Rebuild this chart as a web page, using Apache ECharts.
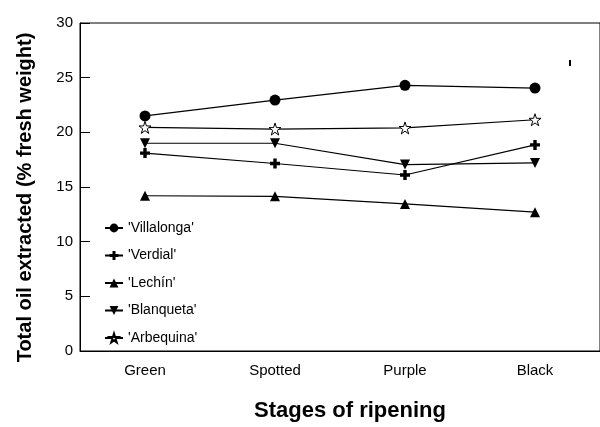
<!DOCTYPE html>
<html>
<head>
<meta charset="utf-8">
<script src="https://cdn.jsdelivr.net/npm/echarts@6/dist/echarts.min.js"></script>
<style>html,body{margin:0;padding:0;background:#fff}#c{width:600px;height:427px}</style>
</head>
<body>
<div id="c"></div>
<script>
var stages = ['Green', 'Spotted', 'Purple', 'Black'];
var yTicks = [0, 5, 10, 15, 20, 25, 30];
var villalonga = [21.5, 22.95, 24.3, 24.05];
var verdial = [18.1, 17.15, 16.1, 18.85];
var lechin = [14.2, 14.15, 13.45, 12.7];
var blanqueta = [19.0, 19.0, 17.05, 17.2];
var arbequina = [20.45, 20.3, 20.4, 21.15];
var seriesNames = ["'Villalonga'", "'Verdial'", "'Lechín'", "'Blanqueta'", "'Arbequina'"];

var FONT = 'Liberation Sans, Arial, Helvetica, sans-serif';
var plusPath = 'path://M3.3,0 H6.7 V3.3 H10 V6.7 H6.7 V10 H3.3 V6.7 H0 V3.3 H3.3 Z';
var downTri = 'path://M0,0 L10,0 L5,9 Z';
var starPath = 'path://M5,0 L6.2,3.6 L10,3.6 L6.9,5.9 L8.1,9.5 L5,7.3 L1.9,9.5 L3.1,5.9 L0,3.6 L3.8,3.6 Z';

function mk(name, data, symbol, size, hollow) {
  return {
    name: name, type: 'line', data: data, xAxisIndex: 0,
    symbol: symbol, symbolSize: size, showSymbol: true,
    lineStyle: { color: '#000', width: 1.2 },
    itemStyle: hollow ? { color: '#fff', borderColor: '#000', borderWidth: 1 } : { color: '#000', borderWidth: 0 },
    emphasis: { disabled: true },
    animation: false
  };
}

var chart = echarts.init(document.getElementById('c'), null, { renderer: 'canvas' });
chart.setOption({
  backgroundColor: '#fff',
  animation: false,
  grid: { left: 80, right: -8, top: 23, bottom: 65, show: true, borderColor: '#000', borderWidth: 1 },
  legend: {
    orient: 'vertical', left: 99, top: 216, itemGap: 13.5, itemWidth: 18, itemHeight: 11,
    data: seriesNames,
    textStyle: { color: '#000', fontFamily: FONT, fontSize: 14 },
    selectedMode: false
  },
  xAxis: [{
    type: 'category', data: stages, boundaryGap: true,
    axisLine: { lineStyle: { color: '#000', width: 1 } },
    axisTick: { inside: true, length: 7, lineStyle: { color: '#000' } },
    axisLabel: { color: '#000', fontFamily: FONT, fontSize: 15, margin: 12 },
    name: 'Stages of ripening', nameLocation: 'middle', nameGap: 49,
    nameTextStyle: { color: '#000', fontFamily: FONT, fontSize: 22, fontWeight: 'bold', padding: [0, 0, 0, 20] }
  }, {
    type: 'category', data: stages, boundaryGap: true, position: 'bottom',
    axisLine: { show: false },
    axisTick: { inside: true, length: 7, alignWithLabel: true, lineStyle: { color: '#000' } },
    axisLabel: { show: false }
  }],
  yAxis: {
    type: 'value', min: 0, max: 30, interval: 5,
    axisLine: { show: true, lineStyle: { color: '#000', width: 1 } },
    axisTick: { show: true, inside: true, length: 10, lineStyle: { color: '#000' } },
    splitLine: { show: false },
    axisLabel: { color: '#000', fontFamily: FONT, fontSize: 15, margin: 7,
      formatter: function (v) { return yTicks.indexOf(v) >= 0 ? String(v) : ''; } },
    name: 'Total oil extracted (% fresh weight)', nameLocation: 'middle', nameGap: 45,
    nameTextStyle: { color: '#000', fontFamily: FONT, fontSize: 20, fontWeight: 'bold', padding: [0, 21, 0, 0] }
  },
  graphic: [{ type: 'rect', shape: { x: 569, y: 60, width: 2, height: 6 }, style: { fill: '#000' } }],
  series: [
    mk(seriesNames[0], villalonga, 'circle', 11, false),
    mk(seriesNames[1], verdial, plusPath, 10, false),
    mk(seriesNames[2], lechin, 'triangle', 10, false),
    mk(seriesNames[3], blanqueta, downTri, 10, false),
    mk(seriesNames[4], arbequina, starPath, 12, true)
  ]
});
</script>
</body>
</html>
